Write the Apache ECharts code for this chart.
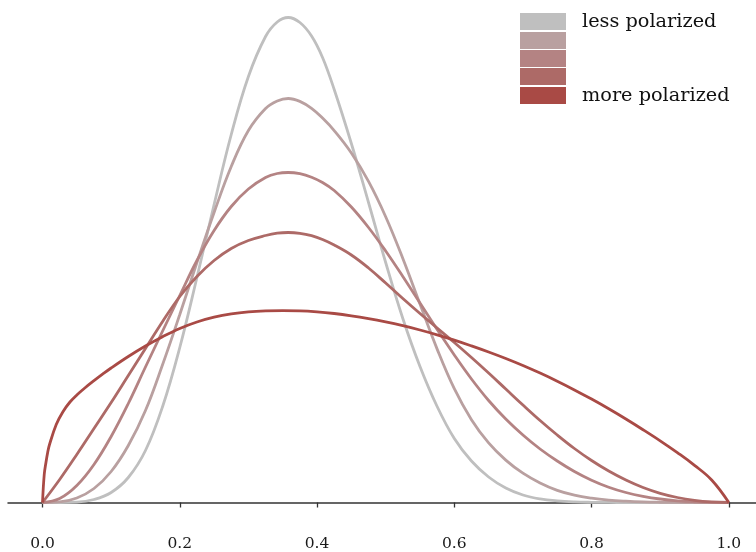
<!DOCTYPE html>
<html><head><meta charset="utf-8">
<script src="https://cdn.jsdelivr.net/npm/echarts@6/dist/echarts.min.js"></script>
<style>html,body{margin:0;padding:0;background:#fff}#c{width:756px;height:552px}</style>
</head><body><div id="c"></div>
<script>
// shared x grid (opinion position) for the four concentrated curves; extra points around the mode
const xGrid = [0, 0.025, 0.05, 0.075, 0.1, 0.125, 0.15, 0.175, 0.2, 0.225, 0.25, 0.275, 0.3, 0.325, 0.342, 0.358, 0.375, 0.392, 0.408, 0.425, 0.45, 0.475, 0.5, 0.525, 0.55, 0.575, 0.6, 0.625, 0.65, 0.675, 0.7, 0.725, 0.75, 0.775, 0.8, 0.825, 0.85, 0.875, 0.9, 0.925, 0.95, 0.975, 1];
// density heights (scaled)
const level1 = [0, 0, 0.3, 3, 10, 25, 52, 96, 155, 225, 298, 368, 426, 466, 480.5, 485, 480, 466.5, 445, 413, 359, 300, 240, 184, 136, 96, 64, 41.5, 25.5, 14.5, 7.5, 3.6, 1.6, 0.6, 0.2, 0.05, 0, 0, 0, 0, 0, 0, 0];
const level2 = [0, 0.6, 4.5, 14, 31, 57, 92, 138, 188, 240, 290, 336, 372, 394, 401.5, 404, 401.1, 394.1, 384.4, 371.9, 349.5, 321.1, 285.8, 244, 198.4, 153.4, 113.8, 82.8, 59.6, 42.4, 29.3, 19.5, 12.1, 7.3, 4.3, 2.4, 1.3, 0.6, 0.25, 0.08, 0, 0, 0];
const level3 = [0, 4, 17, 38, 66, 99, 135.5, 171.5, 207, 242, 272, 296, 313.5, 325, 329, 330, 328.8, 325.3, 320, 312, 295.5, 275, 251.5, 226, 199.5, 173, 147.5, 123.5, 102, 83.5, 67.5, 53.5, 41.5, 31, 22.3, 15.3, 10, 6.2, 3.5, 1.7, 0.7, 0.15, 0];
const level4 = [0, 23, 48, 74, 100, 127, 154, 181, 206, 226, 242, 254, 262, 267, 269.3, 270, 269.2, 266.8, 263, 257.5, 247.5, 234.5, 219.5, 204, 189, 174.5, 160, 145, 129.5, 113.5, 97.5, 82, 67.5, 54, 42, 31.5, 22.5, 15, 9.2, 5, 2.2, 0.6, 0];
// the least concentrated curve has its own x grid (steep start at 0)
const xRed = [0, 0.0025, 0.005, 0.0075, 0.01, 0.02, 0.03, 0.04, 0.05, 0.0625, 0.075, 0.0875, 0.1, 0.125, 0.15, 0.175, 0.2, 0.225, 0.25, 0.275, 0.3, 0.325, 0.35, 0.375, 0.4, 0.425, 0.45, 0.475, 0.5, 0.525, 0.55, 0.575, 0.6, 0.625, 0.65, 0.675, 0.7, 0.725, 0.75, 0.775, 0.8, 0.825, 0.85, 0.875, 0.9, 0.925, 0.95, 0.975, 1];
const level5 = [0, 28, 40, 50, 57.5, 78, 91, 100.5, 107.5, 115, 121.8, 128.3, 134.5, 146, 156.5, 165.8, 174, 180.5, 185.3, 188.6, 190.6, 191.6, 191.9, 191.7, 190.7, 189, 186.7, 183.9, 180.6, 176.8, 172.5, 167.7, 162.4, 156.6, 150.5, 144, 137, 129.4, 121.3, 112.6, 103.4, 93.7, 83.5, 72.8, 61.7, 49.9, 37.2, 22.5, 0];

const seriesNames = ['less polarized', 'level 2', 'level 3', 'level 4', 'more polarized'];
const legendLabels = ['less polarized', '', '', '', 'more polarized'];
const colors = ['#bfbfbf', '#b9a0a0', '#b48383', '#ad6a67', '#a94a45'];
const tickValues = [0, 0.2, 0.4, 0.6, 0.8, 1.0];

const ys = [level1, level2, level3, level4, level5];
const xsFor = [xGrid, xGrid, xGrid, xGrid, xRed];

const chart = echarts.init(document.getElementById('c'), null, {renderer: 'canvas'});
const FONT = '"DejaVu Serif", serif';
chart.setOption({
  animation: false,
  backgroundColor: '#fff',
  grid: {left: 8, right: 0, top: 10, bottom: 26, containLabel: false},
  legend: {
    orient: 'vertical', left: 520, top: 12, padding: 0,
    itemWidth: 46, itemHeight: 17, itemGap: 1,
    icon: 'rect', selectedMode: false,
    data: seriesNames,
    formatter: n => legendLabels[seriesNames.indexOf(n)],
    textStyle: {fontFamily: FONT, fontSize: 19.3, color: '#111', lineHeight: 17, padding: [0, 0, 0, 11]},
    itemStyle: {borderWidth: 0}
  },
  xAxis: {
    type: 'value', min: -0.0503, max: 1.0396,
    splitLine: {show: false},
    axisLine: {show: true, lineStyle: {color: '#333', width: 1.5}},
    axisTick: {show: true, customValues: tickValues, length: 5, lineStyle: {color: '#333', width: 1.3}},
    axisLabel: {customValues: tickValues, formatter: v => v.toFixed(1), fontFamily: FONT, fontSize: 15.5, color: '#1a1a1a', margin: 10}
  },
  yAxis: {type: 'value', min: -23.5, max: 492.5, show: false},
  series: ys.map((y, i) => ({
    name: seriesNames[i], type: 'line', color: colors[i],
    data: y.map((v, j) => [xsFor[i][j], v]),
    showSymbol: false, smooth: 0.4,
    lineStyle: {width: 2.8, color: colors[i]},
    itemStyle: {color: colors[i]},
    z: 2 + i
  }))
});
</script></body></html>
